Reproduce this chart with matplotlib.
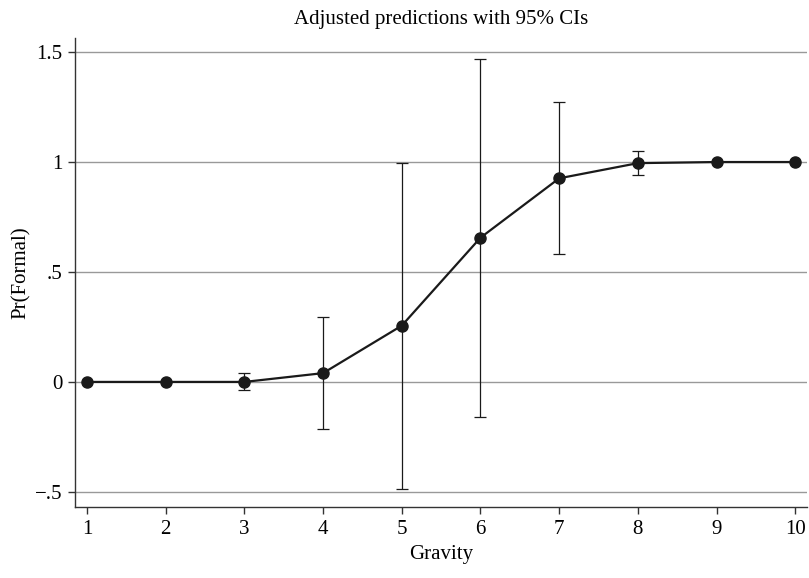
import matplotlib.pyplot as plt

gravity = [1, 2, 3, 4, 5, 6, 7, 8, 9, 10]
pr_formal = [0.0, 0.0, 0.0, 0.04, 0.256, 0.656, 0.926, 0.995, 1.0, 1.0]
ci_low = [0.0, 0.0, -0.035, -0.213, -0.485, -0.159, 0.581, 0.941, 1.0, 1.0]
ci_high = [0.0, 0.0, 0.04, 0.293, 0.995, 1.47, 1.274, 1.05, 1.0, 1.0]
y_ticks = [-0.5, 0, 0.5, 1, 1.5]
y_tick_labels = ['\u2212.5', '0', '.5', '1', '1.5']

plt.rcParams['font.family'] = ['Liberation Serif', 'DejaVu Serif']
plt.rcParams['font.size'] = 15

fig = plt.figure(figsize=(8.09, 5.78), dpi=100)
ax = fig.add_axes([0.0927, 0.122, 0.905, 0.813])

ax.grid(axis='y', color='#999999', linewidth=1.0)
ax.set_axisbelow(True)

# error bars (only where the interval is non-degenerate)
lo_err = [p - l for p, l in zip(pr_formal, ci_low)]
hi_err = [h - p for p, h in zip(pr_formal, ci_high)]
eb_x = [g for g, a, b in zip(gravity, lo_err, hi_err) if a + b > 0.005]
eb_y = [p for p, a, b in zip(pr_formal, lo_err, hi_err) if a + b > 0.005]
eb_lo = [a for a, b in zip(lo_err, hi_err) if a + b > 0.005]
eb_hi = [b for a, b in zip(lo_err, hi_err) if a + b > 0.005]
ax.errorbar(eb_x, eb_y, yerr=[eb_lo, eb_hi], fmt='none', ecolor='#1a1a1a',
            elinewidth=0.9, capsize=4, capthick=0.9, zorder=2)

ax.plot(gravity, pr_formal, color='#1a1a1a', linewidth=1.6, marker='o',
        markersize=8, zorder=3)

ax.set_xlim(0.848, 10.15)
ax.set_ylim(-0.571, 1.566)
ax.set_xticks(gravity)
ax.set_yticks(y_ticks)
ax.set_yticklabels(y_tick_labels)

for side in ['top', 'right']:
    ax.spines[side].set_visible(False)
for side in ['left', 'bottom']:
    ax.spines[side].set_color('#333333')
    ax.spines[side].set_linewidth(1.0)
ax.tick_params(direction='out', length=5, width=1.0, color='#333333', pad=4)

ax.set_xlabel('Gravity', labelpad=4)
ax.set_ylabel('Pr(Formal)', labelpad=3)
ax.set_title('Adjusted predictions with 95% CIs', fontsize=15, pad=10)

fig.savefig('out.png', dpi=100)
